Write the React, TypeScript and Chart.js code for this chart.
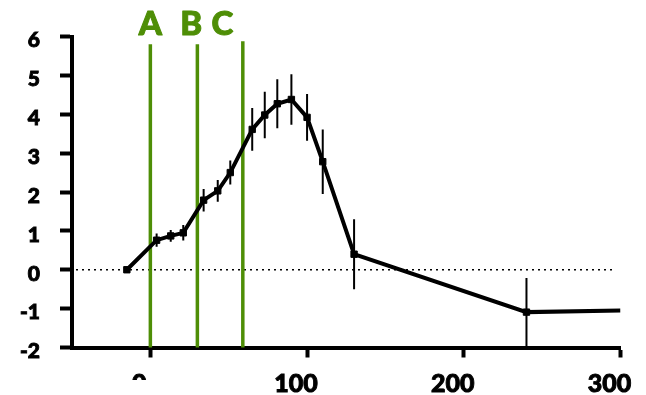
import React, { useEffect, useRef } from "react";
import { Chart, registerables } from "chart.js";

Chart.register(...registerables);

// ---- data ----
const X_VALUES = [-15, 4, 13, 21, 34, 43, 51, 65, 73, 81, 90, 100, 110, 130, 240, 300];
const Y_VALUES = [0, 0.76, 0.87, 0.95, 1.79, 2.03, 2.5, 3.61, 3.98, 4.27, 4.38, 3.92, 2.78, 0.4, -1.09, -1.05];
const Y_ERRORS = [0, 0.17, 0.15, 0.2, 0.29, 0.28, 0.31, 0.55, 0.6, 0.63, 0.65, 0.6, 0.83, 0.9, 0.88, 0];
const SHOW_MARKER = [true, true, true, true, true, true, true, true, true, true, true, true, true, true, true, false];

const X_TICKS = [0, 100, 200, 300];
const Y_TICKS = [-2, -1, 0, 1, 2, 3, 4, 5, 6];

const MARKER_LABELS = ["A", "B", "C"];
const MARKER_X = [0, 30, 59];
const MARKER_TOP = [5.8, 5.8, 5.88];
const MARKER_LABEL_X = [0, 26, 46];

const GREEN = "rgb(78,142,6)";
const FONT = "Lato, 'Open Sans', sans-serif";
const X_LABEL_SHIFT = -11;

const overlayPlugin = {
  id: "overlay",
  beforeDatasetsDraw(chart: any) {
    const { ctx, chartArea, scales } = chart;
    const x = scales.x;
    const y = scales.y;
    // dotted zero line
    ctx.save();
    ctx.setLineDash([2, 4]);
    ctx.lineWidth = 1.6;
    ctx.strokeStyle = "#000";
    const y0 = y.getPixelForValue(0);
    ctx.beginPath();
    ctx.moveTo(chartArea.left + 4, y0);
    ctx.lineTo(chartArea.right - 6, y0);
    ctx.stroke();
    ctx.restore();

    // green vertical markers
    ctx.save();
    ctx.strokeStyle = GREEN;
    ctx.lineWidth = 3.5;
    MARKER_X.forEach((v, i) => {
      const px = x.getPixelForValue(v);
      ctx.beginPath();
      ctx.moveTo(px, y.getPixelForValue(MARKER_TOP[i]));
      ctx.lineTo(px, chartArea.bottom);
      ctx.stroke();
    });
    ctx.fillStyle = GREEN;
    ctx.font = `900 33px ${FONT}`;
    ctx.textAlign = "center";
    ctx.textBaseline = "alphabetic";
    ctx.lineWidth = 1;
    ctx.lineJoin = "round";
    MARKER_LABELS.forEach((t, i) => {
      const lx = x.getPixelForValue(MARKER_LABEL_X[i]);
      ctx.fillText(t, lx, chartArea.top - 2);
      ctx.strokeText(t, lx, chartArea.top - 2);
    });
    ctx.restore();
  },
  afterDatasetsDraw(chart: any) {
    const { ctx, chartArea, scales } = chart;
    const x = scales.x;
    const y = scales.y;
    ctx.save();
    ctx.beginPath();
    ctx.rect(chartArea.left, chartArea.top, chartArea.right - chartArea.left, chartArea.bottom - chartArea.top);
    ctx.clip();
    ctx.strokeStyle = "#000";
    ctx.lineWidth = 2;
    X_VALUES.forEach((xv, i) => {
      const e = Y_ERRORS[i];
      if (!e) return;
      const px = x.getPixelForValue(xv);
      ctx.beginPath();
      ctx.moveTo(px, y.getPixelForValue(Y_VALUES[i] + e));
      ctx.lineTo(px, y.getPixelForValue(Y_VALUES[i] - e));
      ctx.stroke();
    });
    ctx.restore();
  },
  afterDraw(chart: any) {
    // the reference's "0" label is partly hidden at its lower half
    const { ctx, scales } = chart;
    const px = scales.x.getPixelForValue(0) + X_LABEL_SHIFT + 2;
    ctx.save();
    ctx.fillStyle = "#fff";
    ctx.fillRect(px - 12, 380, 24, 20);
    ctx.restore();
  },
};

export default function App() {
  const canvasRef = useRef<HTMLCanvasElement | null>(null);

  useEffect(() => {
    if (!canvasRef.current) return;
    const data = X_VALUES.map((xv, i) => ({ x: xv, y: Y_VALUES[i] }));
    const chart = new Chart(canvasRef.current, {
      type: "line",
      data: {
        datasets: [
          {
            data,
            borderColor: "#000",
            backgroundColor: "#000",
            borderWidth: 4,
            tension: 0,
            pointStyle: "rect",
            pointRadius: SHOW_MARKER.map((s) => (s ? 4.5 : 0)),
            pointBorderWidth: 1,
            pointBackgroundColor: "#000",
            pointBorderColor: "#000",
            fill: false,
          },
        ],
      },
      options: {
        animation: false,
        responsive: false,
        devicePixelRatio: 1,
        layout: { padding: { top: 36.5, right: 25.5, left: 0, bottom: 0 } },
        plugins: { legend: { display: false }, tooltip: { enabled: false } },
        scales: {
          x: {
            type: "linear",
            min: -50,
            max: 300,
            afterFit: (s: any) => {
              s.height = 47.5;
              s.paddingLeft = 0;
              s.paddingRight = 0;
            },
            afterBuildTicks: (s: any) => {
              s.ticks = X_TICKS.map((v) => ({ value: v }));
            },
            border: { display: true, width: 4, color: "#000" },
            grid: {
              drawOnChartArea: false,
              drawTicks: true,
              tickLength: 10,
              tickWidth: 4,
              tickColor: "#000",
            },
            ticks: {
              color: "#000",
              padding: 11,
              labelOffset: X_LABEL_SHIFT,
              maxRotation: 0,
              autoSkip: false,
              textStrokeColor: "#000",
              textStrokeWidth: 0.9,
              font: { family: FONT, weight: "900", size: 25 },
            },
          },
          y: {
            type: "linear",
            min: -2,
            max: 6,
            afterFit: (s: any) => {
              s.width = 72;
              s.paddingTop = 0;
              s.paddingBottom = 0;
            },
            afterBuildTicks: (s: any) => {
              s.ticks = Y_TICKS.map((v) => ({ value: v }));
            },
            border: { display: true, width: 4, color: "#000" },
            grid: {
              drawOnChartArea: false,
              drawTicks: true,
              tickLength: 12,
              tickWidth: 4,
              tickColor: "#000",
            },
            ticks: {
              color: "#000",
              padding: 20,
              labelOffset: 4,
              autoSkip: false,
              textStrokeColor: "#000",
              textStrokeWidth: 0.9,
              font: { family: FONT, weight: "900", size: 21 },
            },
          },
        },
      },
      plugins: [overlayPlugin],
    } as any);
    return () => chart.destroy();
  }, []);

  return (
    <div style={{ position: "absolute", left: 0, top: 0, width: 646, height: 395, background: "#fff" }}>
      <canvas ref={canvasRef} width={646} height={395} />
    </div>
  );
}
